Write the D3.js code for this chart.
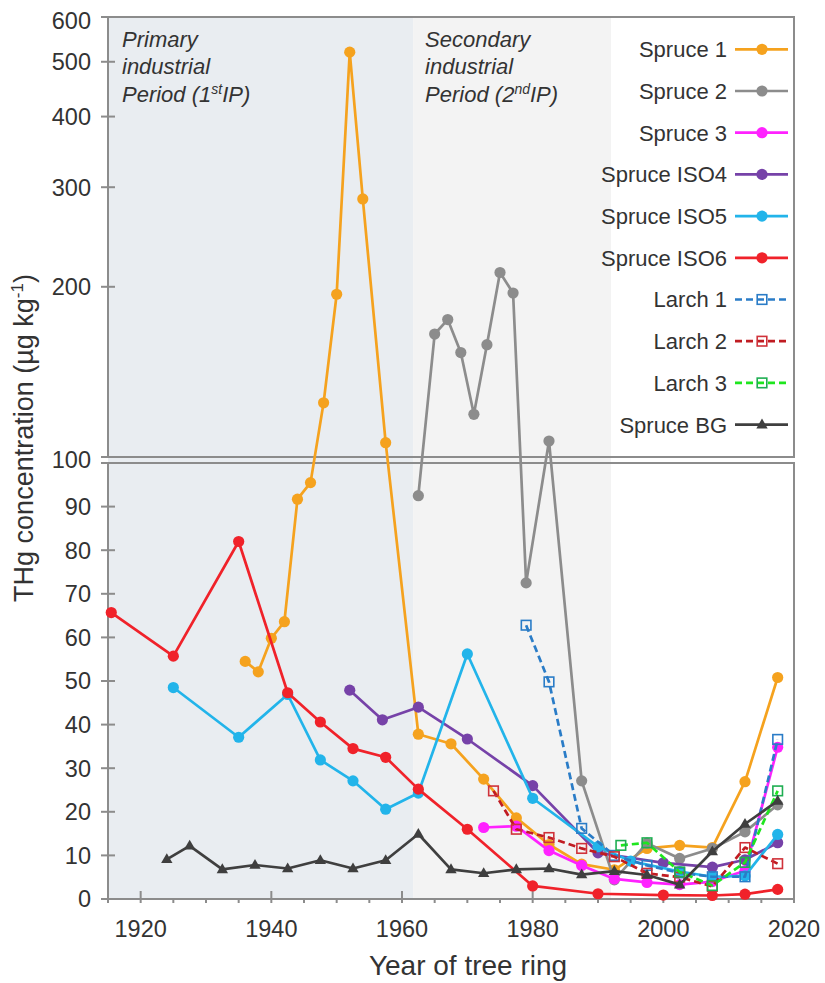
<!doctype html>
<html lang="en">
<head>
<meta charset="utf-8" />
<title>THg concentration in tree rings</title>
<script src="https://cdn.jsdelivr.net/npm/d3@7"></script>
<style>
  html, body { margin: 0; padding: 0; background: #fff; }
  svg { display: block; font-family: Arial, "Liberation Sans", sans-serif; }
</style>
</head>
<body>
<div id="chart"></div>
<script>
// values (year of ring, THg in ug/kg)
var spruce1Years = [1936, 1938, 1940, 1942, 1944, 1946, 1948, 1950, 1952, 1954, 1957.5, 1962.5, 1967.5, 1972.5, 1977.5, 1982.5, 1987.5, 1992.5, 1997.5, 2002.5, 2007.5, 2012.5, 2017.5];
var spruce1 = [54.5, 52.1, 59.8, 63.6, 91.7, 95.5, 124.7, 194, 520, 286, 106, 37.8, 35.6, 27.5, 18.6, 12.5, 8.0, 6.7, 11.6, 12.3, 11.8, 26.9, 50.8];

var spruce2Years = [1962.5, 1965, 1967, 1969, 1971, 1973, 1975, 1977, 1979, 1982.5, 1987.5, 1992.5, 1997.5, 2002.5, 2007.5, 2012.5, 2017.5];
var spruce2 = [92.5, 165, 175, 153, 119, 158, 212, 195, 72.5, 106.7, 27.1, 4.4, 12.8, 9.3, 11.6, 15.4, 21.6];

var spruce3Years = [1972.5, 1977.5, 1982.5, 1987.5, 1992.5, 1997.5, 2002.5, 2007.5, 2012.5, 2017.5];
var spruce3 = [16.4, 16.7, 11.1, 7.7, 4.6, 3.8, 3.3, 4.0, 6.5, 34.8];

var iso4Years = [1952, 1957, 1962.5, 1970, 1980, 1990, 2000, 2007.5, 2012.5, 2017.5];
var iso4 = [47.9, 41.1, 44.0, 36.7, 26.0, 10.6, 8.3, 7.3, 9.0, 12.9];

var iso5Years = [1925, 1935, 1942.5, 1947.5, 1952.5, 1957.5, 1962.5, 1970, 1980, 1990, 1995, 2002.5, 2007.5, 2012.5, 2017.5];
var iso5 = [48.5, 37.1, 46.9, 31.9, 27.1, 20.6, 24.3, 56.2, 23.1, 12.0, 8.7, 6.3, 5.1, 5.3, 14.8];

var iso6Years = [1915.5, 1925, 1935, 1942.5, 1947.5, 1952.5, 1957.5, 1962.5, 1970, 1980, 1990, 2000, 2007.5, 2012.5, 2017.5];
var iso6 = [65.7, 55.7, 82.0, 47.3, 40.6, 34.5, 32.5, 25.2, 16.0, 3.0, 1.2, 0.9, 0.8, 1.1, 2.2];

var larch1Years = [1979, 1982.5, 1987.5, 1992.5, 1997.5, 2002.5, 2007.5, 2012.5, 2017.5];
var larch1 = [62.8, 49.8, 16.2, 10.0, 7.7, 6.0, 5.1, 5.1, 36.6];

var larch2Years = [1974, 1977.5, 1982.5, 1987.5, 1992.5, 1997.5, 2002.5, 2007.5, 2012.5, 2017.5];
var larch2 = [24.8, 16.0, 14.1, 11.6, 9.7, 5.9, 5.0, 2.9, 11.8, 8.1];

var larch3Years = [1993.5, 1997.5, 2002.5, 2007.5, 2012.5, 2017.5];
var larch3 = [12.3, 12.9, 6.2, 3.1, 8.4, 24.8];

var bgYears = [1924, 1927.5, 1932.5, 1937.5, 1942.5, 1947.5, 1952.5, 1957.5, 1962.5, 1967.5, 1972.5, 1977.5, 1982.5, 1987.5, 1992.5, 1997.5, 2002.5, 2007.5, 2012.5, 2017.5];
var bg = [9.1, 12.2, 6.8, 7.8, 7.0, 8.9, 7.0, 8.9, 14.9, 6.8, 5.9, 6.8, 7.0, 5.6, 6.4, 5.5, 3.3, 10.9, 17.2, 22.5];

var xMajorTicks = [1920, 1940, 1960, 1980, 2000, 2020];
var xMinorTicks = [1925, 1930, 1935, 1945, 1950, 1955, 1965, 1970, 1975, 1985, 1990, 1995, 2005, 2010, 2015];
var yLowTicks = [0, 10, 20, 30, 40, 50, 60, 70, 80, 90, 100];
var yHighTicks = [200, 300, 400, 500, 600];

var periodStarts = [1915, 1961.7];
var periodEnds = [1961.7, 1992];
var periodLabels = [["Primary", "industrial", "Period (1", "st", "IP)"],
                    ["Secondary", "industrial", "Period (2", "nd", "IP)"]];

function pts(years, vals) {
  return years.map(function(yr, i) { return {year: yr, value: vals[i]}; });
}

var series = [
  {name: "Spruce 1",    data: pts(spruce1Years, spruce1), color: "#f5a21e", mark: "circle"},
  {name: "Spruce 2",    data: pts(spruce2Years, spruce2), color: "#8c8c8c", mark: "circle"},
  {name: "Spruce 3",    data: pts(spruce3Years, spruce3), color: "#ff22ff", mark: "circle"},
  {name: "Spruce ISO4", data: pts(iso4Years, iso4),       color: "#7642a8", mark: "circle"},
  {name: "Spruce ISO5", data: pts(iso5Years, iso5),       color: "#22b4ea", mark: "circle"},
  {name: "Spruce ISO6", data: pts(iso6Years, iso6),       color: "#f0222a", mark: "circle"},
  {name: "Larch 1",     data: pts(larch1Years, larch1),   color: "#2a7cc7", mark: "square", edge: "#2a7cc7", dash: "7,4"},
  {name: "Larch 2",     data: pts(larch2Years, larch2),   color: "#c01c22", mark: "square", edge: "#d0323a", dash: "7,4"},
  {name: "Larch 3",     data: pts(larch3Years, larch3),   color: "#1ee61e", mark: "square", edge: "#1fae52", dash: "7,4"},
  {name: "Spruce BG",   data: pts(bgYears, bg),           color: "#3f3f3f", mark: "triangle"}
];

var axisColor = "#8c8c8c", textColor = "#333";

var svg = d3.select("#chart").append("svg").attr("width", 825).attr("height", 983);

// broken axis: linear below 100, log above
var x = d3.scaleLinear().domain([1915, 2020]).range([108, 794]);
var yLow = d3.scaleLinear().domain([0, 100]).range([899, 463]);
var yHigh = d3.scaleLog().domain([100, 600]).range([457, 17]);
function y(v) { return v <= 100 ? yLow(v) : yHigh(v); }

// shaded periods
periodStarts.forEach(function(s, i) {
  svg.append("rect").attr("x", x(s)).attr("y", yHigh(600))
    .attr("width", x(periodEnds[i]) - x(s)).attr("height", yLow(0) - yHigh(600))
    .attr("fill", i === 0 ? "#e9edf1" : "#f3f3f3");
});

// panel frames
var frame = svg.append("g").attr("stroke", axisColor).attr("stroke-width", 2).attr("fill", "none");
frame.append("rect").attr("x", x(1915)).attr("y", yHigh(600)).attr("width", x(2020) - x(1915)).attr("height", yHigh(100) - yHigh(600));
frame.append("rect").attr("x", x(1915)).attr("y", yLow(100)).attr("width", x(2020) - x(1915)).attr("height", yLow(0) - yLow(100));
[yHigh(600), yHigh(100), yLow(100), yLow(0)].forEach(function(yy) {
  frame.append("line").attr("x1", x(1915) - 7).attr("x2", x(1915)).attr("y1", yy).attr("y2", yy);
});
// y ticks crossing the axis
yLowTicks.filter(function(t) { return t > 0 && t < 100; }).forEach(function(t) {
  frame.append("line").attr("x1", x(1915) - 7).attr("x2", x(1915) + 7).attr("y1", yLow(t)).attr("y2", yLow(t));
});
yHighTicks.filter(function(t) { return t < 600; }).forEach(function(t) {
  frame.append("line").attr("x1", x(1915) - 7).attr("x2", x(1915) + 7).attr("y1", yHigh(t)).attr("y2", yHigh(t));
});
// x ticks
xMajorTicks.forEach(function(t) {
  frame.append("line").attr("x1", x(t)).attr("x2", x(t)).attr("y1", yLow(0) - 8).attr("y2", yLow(0) + 4);
});
xMinorTicks.concat([1915]).forEach(function(t) {
  frame.append("line").attr("x1", x(t)).attr("x2", x(t)).attr("y1", yLow(0)).attr("y2", yLow(0) + 4);
});

// tick labels
var lab = svg.append("g").attr("fill", textColor).attr("font-size", 23.5);
yLowTicks.forEach(function(t) {
  var yy = t === 100 ? (yHigh(100) + yLow(100)) / 2 : yLow(t);
  lab.append("text").attr("x", 91).attr("y", yy).attr("dy", "0.36em").attr("text-anchor", "end").text(t);
});
yHighTicks.forEach(function(t) {
  var yy = t === 600 ? yHigh(t) + 4 : yHigh(t);
  lab.append("text").attr("x", 91).attr("y", yy).attr("dy", "0.36em").attr("text-anchor", "end").text(t);
});
xMajorTicks.forEach(function(t) {
  lab.append("text").attr("x", x(t)).attr("y", 937).attr("text-anchor", "middle").text(t);
});

// period annotations
periodLabels.forEach(function(p, i) {
  var tx = x(periodStarts[i]) + (i === 0 ? 14 : 12);
  var t = svg.append("text").attr("x", tx).attr("y", 47)
    .attr("font-size", 22).attr("font-style", "italic").attr("fill", textColor);
  t.append("tspan").text(p[0]);
  t.append("tspan").attr("x", tx).attr("dy", 27.3).text(p[1]);
  t.append("tspan").attr("x", tx).attr("dy", 27.3).text(p[2]);
  t.append("tspan").attr("font-size", 14).attr("dy", -8).text(p[3]);
  t.append("tspan").attr("dy", 8).text(p[4]);
});

// series
var line = d3.line().x(function(d) { return x(d.year); }).y(function(d) { return y(d.value); });
var tri = d3.symbol().type(d3.symbolTriangle).size(56);

function drawMarks(g, s, pts) {
  if (s.mark === "circle") {
    g.selectAll("circle").data(pts).enter().append("circle")
      .attr("cx", function(d) { return d.cx; }).attr("cy", function(d) { return d.cy; })
      .attr("r", 5.6).attr("fill", s.color);
  } else if (s.mark === "square") {
    g.selectAll("rect").data(pts).enter().append("rect")
      .attr("x", function(d) { return d.cx - 4.8; }).attr("y", function(d) { return d.cy - 4.8; })
      .attr("width", 9.6).attr("height", 9.6)
      .attr("fill", "none").attr("stroke", s.edge).attr("stroke-width", 1.6);
  } else {
    g.selectAll("path").data(pts).enter().append("path")
      .attr("transform", function(d) { return "translate(" + d.cx + "," + (d.cy + 0.5) + ")"; })
      .attr("d", tri).attr("fill", s.color);
  }
}

series.forEach(function(s) {
  var g = svg.append("g");
  g.append("path").datum(s.data).attr("d", line).attr("fill", "none")
    .attr("stroke", s.color).attr("stroke-width", 2.7).attr("stroke-linejoin", "round")
    .attr("stroke-dasharray", s.dash || null);
  drawMarks(g.append("g"), s, s.data.map(function(d) { return {cx: x(d.year), cy: y(d.value)}; }));
});

// legend
series.forEach(function(s, i) {
  var ly = 49.3 + i * 41.7;
  var g = svg.append("g");
  g.append("text").attr("x", 727).attr("y", ly).attr("dy", "0.36em").attr("text-anchor", "end")
    .attr("font-size", 22).attr("fill", textColor).text(s.name);
  g.append("line").attr("x1", 735).attr("x2", 788).attr("y1", ly).attr("y2", ly)
    .attr("stroke", s.color).attr("stroke-width", 2.7).attr("stroke-dasharray", s.dash || null);
  drawMarks(g.append("g"), s, [{cx: 762, cy: ly}]);
});

// axis titles
svg.append("text").attr("x", 468).attr("y", 975).attr("text-anchor", "middle")
  .attr("font-size", 28).attr("fill", textColor).text("Year of tree ring");
var yt = svg.append("text").attr("transform", "translate(33,438) rotate(-90)")
  .attr("text-anchor", "middle").attr("font-size", 27).attr("fill", textColor);
yt.append("tspan").text("THg concentration (\u00b5g kg");
yt.append("tspan").attr("font-size", 17).attr("dy", -10).text("-1");
yt.append("tspan").attr("dy", 10).text(")");
</script>
</body>
</html>
